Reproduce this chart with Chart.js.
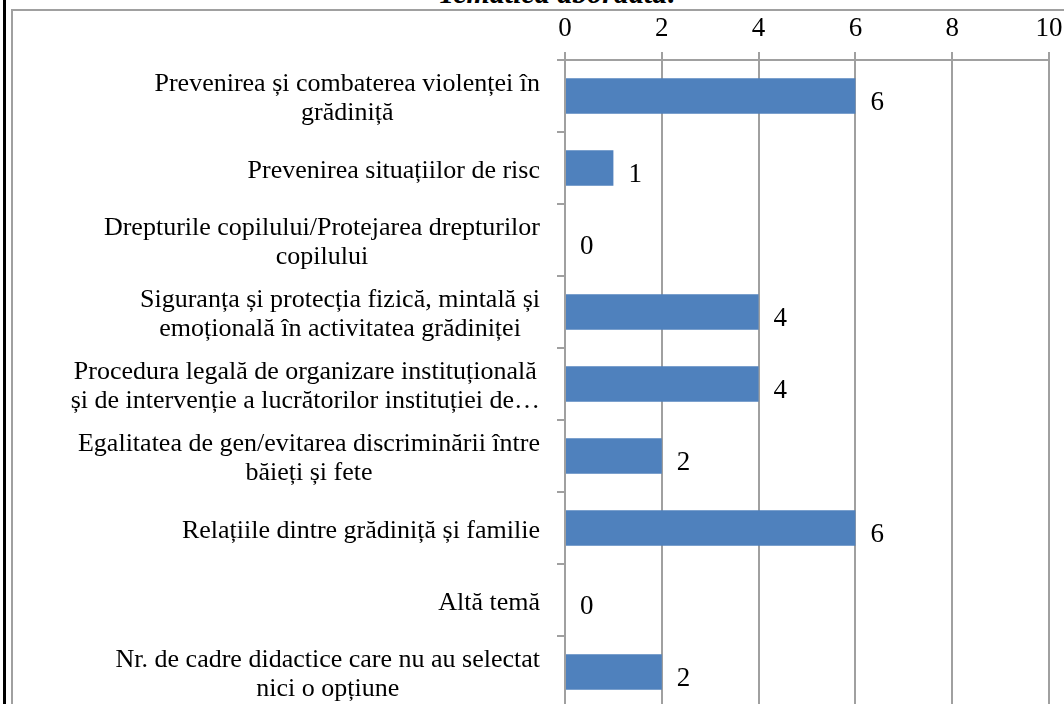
<!DOCTYPE html>
<html>
<head>
<meta charset="utf-8">
<script src="https://cdn.jsdelivr.net/npm/chart.js@4"></script>
<style>
  html, body { margin: 0; padding: 0; background: #fff; overflow: hidden; width: 1064px; height: 704px; }
  #linie { position: absolute; left: 3px; top: 0; width: 3px; height: 704px; background: #000; }
  #titlu { position: absolute; left: 0; width: 1115px; text-align: center; top: -23px; font: italic bold 30px "Liberation Serif", "Times New Roman", serif; line-height: 31px; white-space: nowrap; color: #000; }
  #cadru { position: absolute; left: 11px; top: 9px; border-top: 2px solid #a0a0a0; border-left: 2px solid #a0a0a0; width: 1051px; height: 720px; }
  canvas { display: block; }
</style>
</head>
<body>
<div id="linie"></div>
<div id="titlu">Tematica abordată:</div>
<div id="cadru"><canvas id="grafic" width="1051" height="720"></canvas></div>
<script>
// Categoriile (etichetele pe mai multe rânduri sunt liste)
const categorii = [
    ['Prevenirea și combaterea violenței în', 'grădiniță'],
    'Prevenirea situațiilor de risc',
    ['Drepturile copilului/Protejarea drepturilor', 'copilului'],
    ['Siguranța și protecția fizică, mintală și', 'emoțională în activitatea grădiniței'],
    ['Procedura legală de organizare instituțională', 'și de intervenție a lucrătorilor instituției de…'],
    ['Egalitatea de gen/evitarea discriminării între', 'băieți și fete'],
    'Relațiile dintre grădiniță și familie',
    'Altă temă',
    ['Nr. de cadre didactice care nu au selectat', 'nici o opțiune']
];

// Numărul de răspunsuri pentru fiecare temă
const valori = [6, 1, 0, 4, 4, 2, 6, 0, 2];

const FONT = '"Liberation Serif", "Times New Roman", serif';
const GRI = '#a0a0a0';

// Desenează etichetele categoriilor: blocul aliniat la dreapta, rândurile centrate
const eticheteY = {
    id: 'eticheteY',
    afterDraw(chart) {
        const c = chart.ctx;
        const y = chart.scales.y;
        c.save();
        c.font = '26px ' + FONT;
        c.fillStyle = '#000';
        c.textAlign = 'center';
        c.textBaseline = 'middle';
        categorii.forEach((et, i) => {
            const randuri = Array.isArray(et) ? et : [et];
            const latime = Math.max(...randuri.map(r => c.measureText(r).width));
            const dreapta = y.right - 25;
            const centru = y.getPixelForTick(i) + 3;
            const inaltime = 29;
            randuri.forEach((r, k) => {
                const py = centru + (k - (randuri.length - 1) / 2) * inaltime;
                c.fillText(r, dreapta - latime / 2, py);
            });
        });
        c.restore();
    }
};

// Desenează valoarea lângă fiecare bară
const valoriBare = {
    id: 'valoriBare',
    afterDatasetsDraw(chart) {
        const c = chart.ctx;
        const meta = chart.getDatasetMeta(0);
        c.save();
        c.font = '27px ' + FONT;
        c.fillStyle = '#000';
        c.textAlign = 'left';
        c.textBaseline = 'middle';
        meta.data.forEach((bara, i) => {
            c.fillText(String(valori[i]), bara.x + 15, bara.y + 7);
        });
        c.restore();
    }
};

const ctx = document.getElementById('grafic').getContext('2d');
new Chart(ctx, {
    type: 'bar',
    data: {
        labels: categorii,
        datasets: [{
            data: valori,
            backgroundColor: '#4f81bd',
            borderWidth: 0,
            barPercentage: 0.49,
            categoryPercentage: 1
        }]
    },
    options: {
        indexAxis: 'y',
        responsive: false,
        animation: false,
        layout: { padding: { left: 0, top: 0, right: 15, bottom: 23 } },
        plugins: {
            legend: { display: false },
            tooltip: { enabled: false }
        },
        scales: {
            x: {
                position: 'top',
                min: 0,
                max: 10,
                ticks: { stepSize: 2, color: '#000', font: { family: FONT, size: 27 }, padding: 7 },
                grid: { color: GRI, lineWidth: 2, tickLength: 8 },
                border: { color: GRI, width: 2 },
                afterFit(scale) {
                    scale.height = 49;
                    scale.paddingLeft = 0;
                    scale.paddingRight = 0;
                }
            },
            y: {
                ticks: { display: false },
                grid: { offset: true, drawOnChartArea: false, color: GRI, lineWidth: 2, tickLength: 8 },
                border: { color: GRI, width: 2 },
                afterFit(scale) { scale.width = 552; }
            }
        }
    },
    plugins: [eticheteY, valoriBare]
});
</script>
</body>
</html>
